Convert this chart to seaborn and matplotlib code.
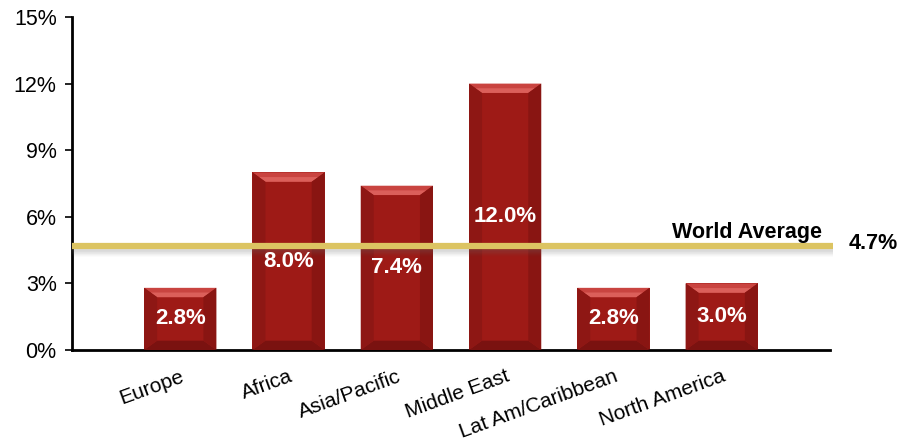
import matplotlib
matplotlib.use("Agg")
import matplotlib.pyplot as plt
import seaborn as sns
import pandas as pd
from matplotlib.patches import Polygon
from matplotlib.ticker import FuncFormatter

categories = ["Europe", "Africa", "Asia/Pacific", "Middle East", "Lat Am/Caribbean", "North America"]
values = [2.8, 8.0, 7.4, 12.0, 2.8, 3.0]
value_labels = ["2.8%", "8.0%", "7.4%", "12.0%", "2.8%", "3.0%"]
world_avg = 4.7
world_label = "World Average"
world_value_label = "4.7%"
y_ticks = [0, 3, 6, 9, 12, 15]

sns.set_theme(style="white")
plt.rcParams["font.family"] = ["Liberation Sans", "DejaVu Sans"]

df = pd.DataFrame({"region": categories, "value": values})

fig = plt.figure(figsize=(8.97, 4.44), dpi=100)
ax = fig.add_axes([72 / 897, 1 - 350 / 444, (830 - 72) / 897, (350 - 17) / 444])

sns.barplot(data=df, x="region", y="value", color="#9E1A16", width=0.667,
            saturation=1, ax=ax, zorder=2)

ax.set_xlim(-1, 6)
ax.set_ylim(0, 15)

# bevel effect derived from bar geometry
bx = 0.12
by = 0.42
for p in ax.patches:
    x0, y0 = p.get_x(), p.get_y()
    w, h = p.get_width(), p.get_height()
    x1, y1 = x0 + w, y0 + h
    p.set_edgecolor("none")
    top = Polygon([(x0, y1), (x1, y1), (x1 - bx, y1 - by), (x0 + bx, y1 - by)],
                  closed=True, facecolor="#C94440", edgecolor="none", zorder=3)
    top2 = Polygon([(x0 + bx * 0.5, y1 - by * 0.5), (x1 - bx * 0.5, y1 - by * 0.5),
                    (x1 - bx, y1 - by), (x0 + bx, y1 - by)],
                   closed=True, facecolor="#DB5F5A", edgecolor="none", zorder=3)
    bot = Polygon([(x0, y0), (x1, y0), (x1 - bx, y0 + by), (x0 + bx, y0 + by)],
                  closed=True, facecolor="#7A1210", edgecolor="none", zorder=3)
    left = Polygon([(x0, y0), (x0 + bx, y0 + by), (x0 + bx, y1 - by), (x0, y1)],
                   closed=True, facecolor="#8E1714", edgecolor="none", zorder=3)
    right = Polygon([(x1, y0), (x1 - bx, y0 + by), (x1 - bx, y1 - by), (x1, y1)],
                    closed=True, facecolor="#891512", edgecolor="none", zorder=3)
    for poly in (top, top2, bot, left, right):
        ax.add_patch(poly)

# world average line with shadow
for i, a in enumerate([0.10, 0.09, 0.08, 0.06, 0.05, 0.04, 0.03, 0.02]):
    ax.plot([-1, 6.03], [world_avg - 0.08 - i * 0.05] * 2, color="#707070",
            lw=3, alpha=a, solid_capstyle="butt", zorder=4, clip_on=False)
ax.plot([-1, 6.03], [world_avg, world_avg], color="#DCC462", lw=4.5,
        solid_capstyle="butt", zorder=5, clip_on=False)

ax.text(5.93, world_avg + 0.12, world_label, ha="right", va="bottom",
        fontsize=15.5, fontweight="bold", color="black", zorder=6)
ax.text(1.025, world_avg + 0.1, world_value_label, transform=ax.get_yaxis_transform(),
        ha="left", va="center", fontsize=15.5, fontweight="bold", color="black",
        clip_on=False)

for i, (v, lab) in enumerate(zip(values, value_labels)):
    ax.text(i, v / 2, lab, ha="center", va="center", color="white",
            fontsize=16, fontweight="bold", zorder=7)

ax.set_yticks(y_ticks)
ax.yaxis.set_major_formatter(FuncFormatter(lambda v, _: f"{v:.0f}%"))
ax.tick_params(axis="y", left=True, length=5, width=1.2, color="black",
               labelsize=15.5, pad=6, labelcolor="black")
ax.tick_params(axis="x", bottom=False, labelsize=15, pad=6, labelcolor="black")
ax.set_xticks(range(len(categories)))
ax.set_xticklabels(categories, rotation=20, ha="right", rotation_mode="anchor")
ax.set_xlabel("")
ax.set_ylabel("")

sns.despine(ax=ax, top=True, right=True)
for s in ("left", "bottom"):
    ax.spines[s].set_color("black")
    ax.spines[s].set_linewidth(2)
ax.grid(False)

fig.savefig("out.png", dpi=100, facecolor="white")
